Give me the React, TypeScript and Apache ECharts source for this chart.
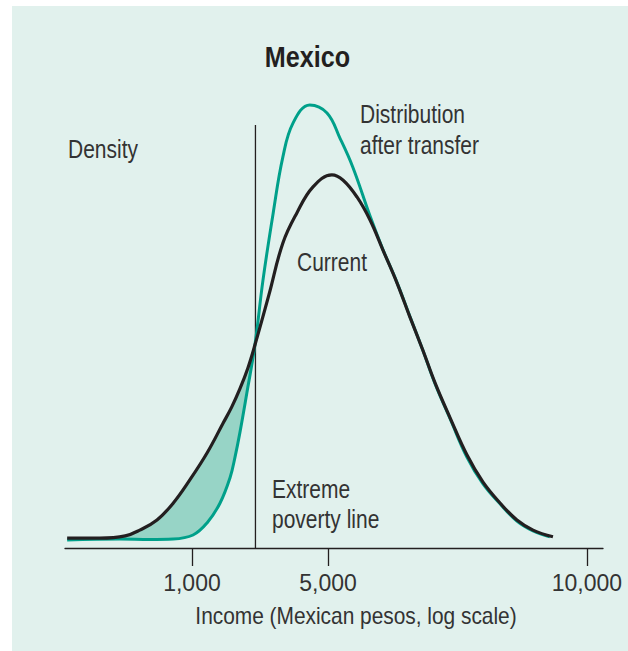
import React, { useEffect, useRef } from 'react';
import * as echarts from 'echarts';

// x axis: position along the income axis (0–100, log-style layout), y: density (0–100)
const xTickValues = [23.6, 48.9, 97.0];
const xTickLabels = ['1,000', '5,000', '10,000'];
const povertyLineX = 35.4;
const povertyLineTop = 94.4;

const currentX = [0.4, 6.5, 11.2, 13.9, 17.1, 20.1, 23.2, 26.4, 29.4, 31.0, 32.5, 34.0, 35.3, 37.9, 40.5, 43.1, 46.1, 49.6, 51.7, 54.3, 56.7, 59.1, 61.7, 64.1, 66.5, 68.8, 71.6, 74.7, 77.7, 80.9, 84.0, 87.0, 90.7];
const currentY = [2.2, 2.2, 2.7, 4.0, 6.25, 10.0, 15.2, 21.2, 27.9, 31.5, 35.5, 40.2, 45.3, 56.5, 68.1, 74.8, 80.6, 83.3, 82.1, 78.3, 73.2, 66.5, 59.2, 51.6, 44.2, 36.8, 29.0, 20.8, 14.7, 10.0, 6.25, 4.0, 2.5];

const transferX = [0.4, 10.2, 15.8, 20.1, 23.8, 26.4, 28.8, 30.7, 31.6, 32.5, 33.8, 35.3, 36.8, 38.7, 40.5, 42.4, 45.5, 48.7, 51.1, 53.5, 56.7, 59.1, 61.7, 64.1, 66.5, 68.8, 71.6, 74.7, 77.7, 80.9, 84.0, 87.0, 90.1];
const transferY = [1.8, 2.0, 1.9, 2.0, 2.9, 5.6, 10.0, 15.8, 20.3, 25.7, 34.6, 45.3, 59.8, 74.8, 87.3, 94.9, 98.9, 97.1, 91.5, 85.0, 74.1, 66.6, 59.3, 51.7, 44.2, 36.6, 28.8, 20.3, 14.3, 9.8, 6.0, 3.8, 2.5];

const FONT = "'Liberation Sans', Arial, sans-serif";
const TEAL = '#00a08a';
const DARK = '#231f20';
const TEXT = '#333333';
const SX = 0.84;

export default function App() {
  const ref = useRef<HTMLDivElement>(null);
  useEffect(() => {
    if (!ref.current) return;
    const chart = echarts.init(ref.current, undefined, { renderer: 'svg' });
    const current = currentX.map((x, i) => [x, currentY[i]]);
    const transfer = transferX.map((x, i) => [x, transferY[i]]);
    const fillUpper = current.filter((p) => p[0] >= 10 && p[0] <= povertyLineX);
    const fillLower = transfer.filter((p) => p[0] >= 10 && p[0] <= povertyLineX).reverse();
    const labelMap: Record<string, string> = {};
    xTickValues.forEach((v, i) => (labelMap[String(v)] = xTickLabels[i]));

    const txt = (text: string, x: number, y: number, opts: any = {}) => ({
      type: 'text',
      z: 10,
      x,
      y,
      scaleX: opts.scaleX ?? SX,
      style: {
        text,
        font: opts.font ?? `25px ${FONT}`,
        fill: opts.fill ?? TEXT,
        align: opts.align ?? 'left',
        verticalAlign: 'middle',
      },
    });

    chart.setOption({
      animation: false,
      backgroundColor: '#ffffff',
      grid: { left: 65, right: 25, top: 100, bottom: 103, containLabel: false },
      xAxis: {
        type: 'value',
        min: 0,
        max: 100,
        axisLine: { show: true, lineStyle: { color: DARK, width: 1.3 } },
        axisTick: { show: true, customValues: xTickValues, length: 18, lineStyle: { color: DARK, width: 1.3 } },
        axisLabel: {
          show: true,
          customValues: xTickValues,
          formatter: (v: number) => labelMap[String(v)] ?? '',
          margin: 23,
          color: TEXT,
          fontSize: 23,
          fontFamily: FONT,
        },
        splitLine: { show: false },
      },
      yAxis: {
        type: 'value',
        min: 0,
        max: 100,
        show: false,
        splitLine: { show: false },
      },
      graphic: [
        { type: 'rect', z: -10, shape: { x: 12, y: 6, width: 616, height: 645 }, style: { fill: '#e1f1ed' } },
        txt('Mexico', 307.5, 57, { font: `bold 30px ${FONT}`, fill: DARK, align: 'center' }),
        txt('Density', 68, 149),
        txt('Distribution', 360, 114),
        txt('after transfer', 360, 145.5),
        txt('Current', 297, 262),
        txt('Extreme', 272, 489),
        txt('poverty line', 272, 519),
        txt('Income (Mexican pesos, log scale)', 356, 616, { font: `24px ${FONT}`, align: 'center', scaleX: 0.87 }),
      ],
      series: [
        {
          type: 'custom',
          z: 1,
          clip: false,
          data: [[0, 0]],
          renderItem: (_params: any, api: any) => {
            const pts = fillUpper.concat(fillLower).map((p) => api.coord(p));
            return { type: 'polygon', shape: { points: pts, smooth: 0.3 }, style: { fill: '#97d4c6' } };
          },
        },
        {
          type: 'line',
          z: 3,
          data: [[povertyLineX, 0], [povertyLineX, povertyLineTop]],
          symbol: 'none',
          lineStyle: { color: DARK, width: 1.3 },
        },
        {
          type: 'line',
          z: 4,
          data: transfer,
          smooth: 0.4,
          symbol: 'none',
          lineStyle: { color: TEAL, width: 3 },
        },
        {
          type: 'line',
          z: 5,
          data: current,
          smooth: 0.4,
          symbol: 'none',
          lineStyle: { color: DARK, width: 3.2 },
        },
      ],
    });
    return () => chart.dispose();
  }, []);
  return <div ref={ref} style={{ position: 'fixed', left: 0, top: 0, width: 628, height: 651 }} />;
}
